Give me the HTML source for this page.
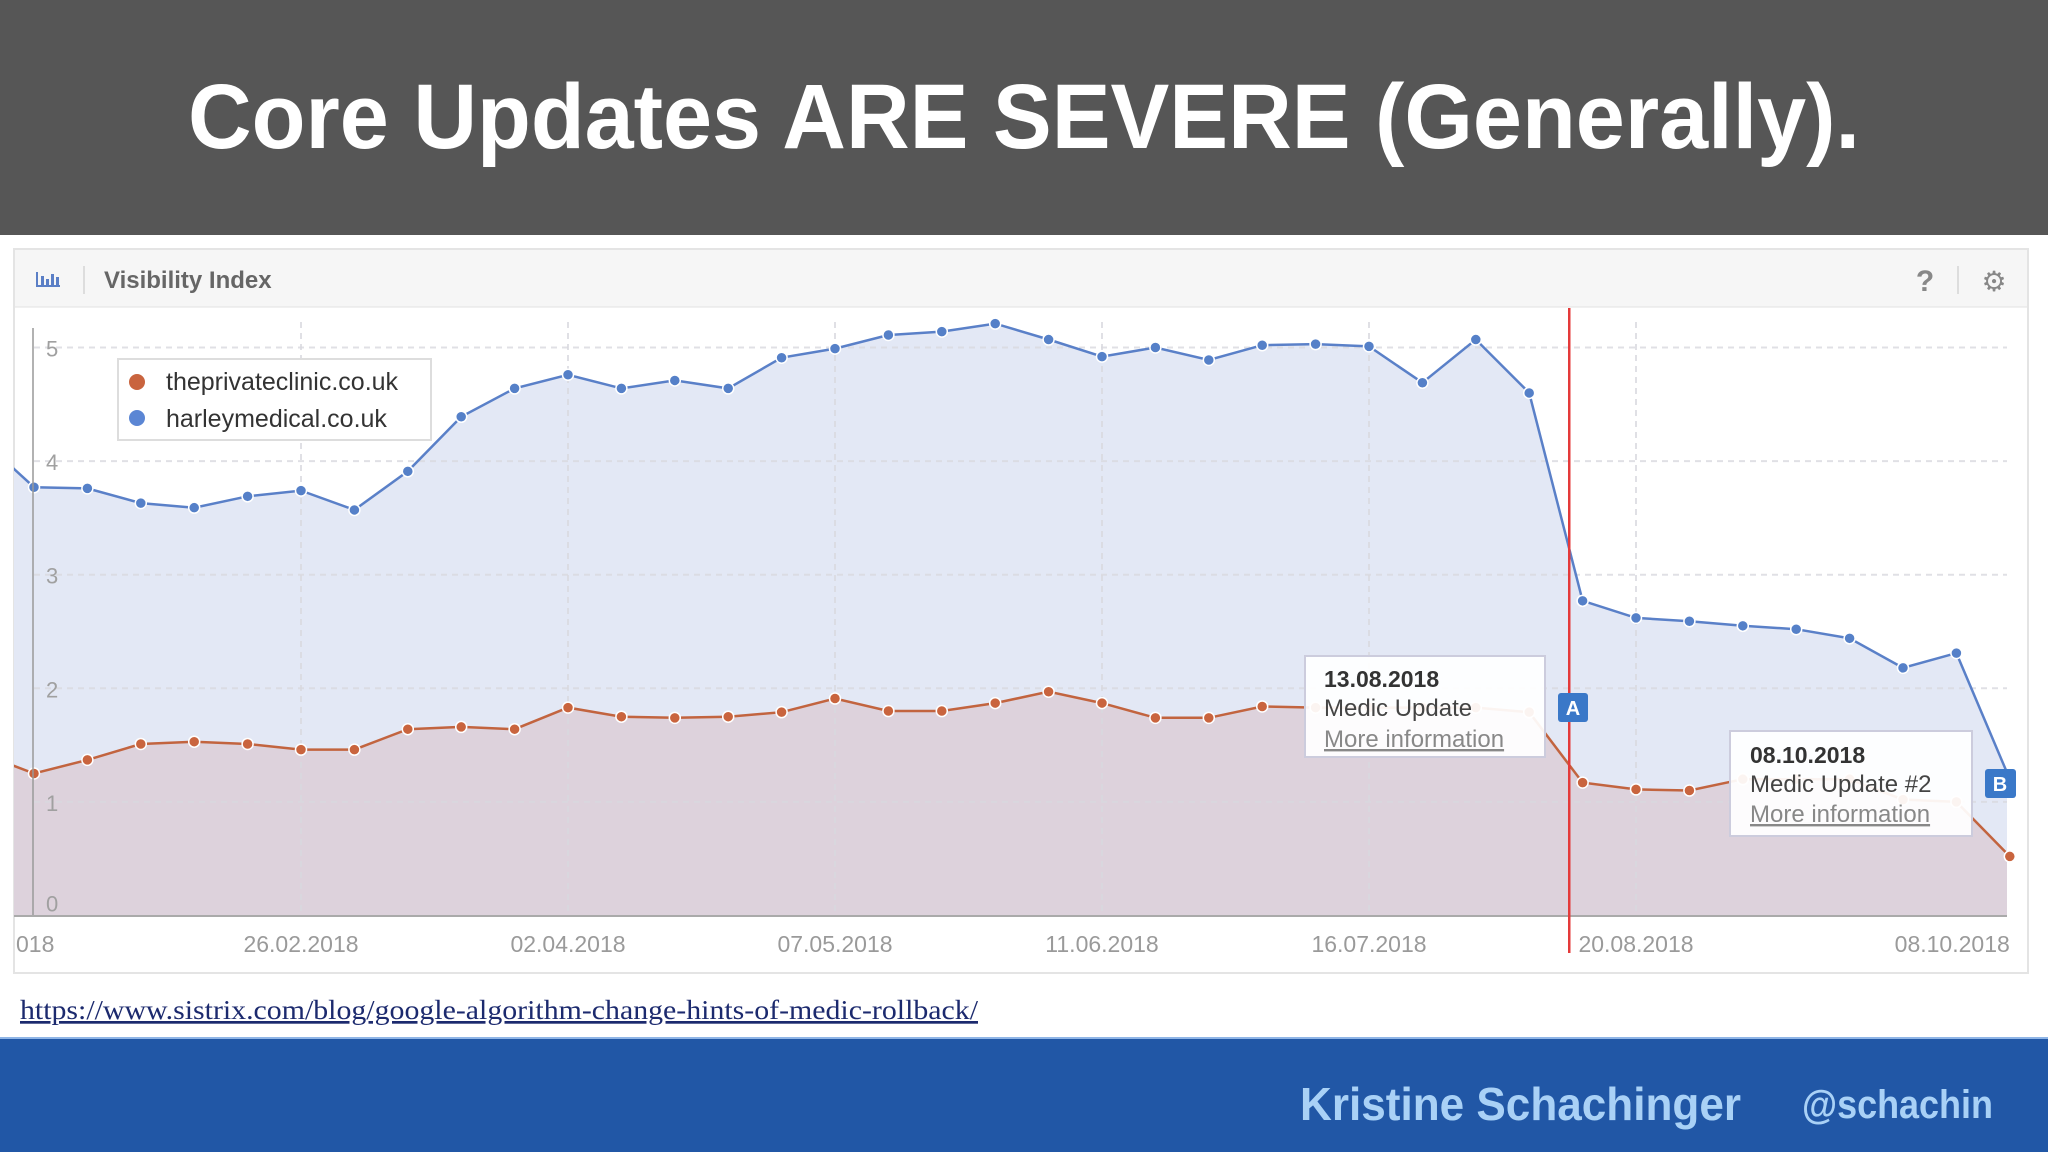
<!DOCTYPE html>
<html><head><meta charset="utf-8"><style>
html,body{margin:0;padding:0;width:2048px;height:1152px;overflow:hidden;background:#fff}
svg{display:block}
</style></head><body>
<svg id="s" width="2048" height="1152" viewBox="0 0 2048 1152" xmlns="http://www.w3.org/2000/svg">
<rect x="0" y="0" width="2048" height="235" fill="#565656"/>
<text x="1024" y="148" text-anchor="middle" fill="#fff" font-family="Liberation Sans, sans-serif" font-weight="bold" font-size="92" textLength="1672" lengthAdjust="spacingAndGlyphs">Core Updates ARE SEVERE (Generally).</text>
<rect x="14" y="249" width="2014" height="724" fill="#fff" stroke="#e4e4e4" stroke-width="2"/>
<rect x="15" y="250" width="2012" height="57" fill="#f6f6f6"/>
<line x1="15" y1="307" x2="2027" y2="307" stroke="#e2e2e2"/>
<g fill="#5b7fc6"><rect x="36" y="272" width="2" height="14"/><rect x="36" y="285" width="24" height="2"/><rect x="41" y="276" width="3" height="9"/><rect x="46" y="279" width="3" height="6"/><rect x="51" y="274" width="3" height="11"/><rect x="56" y="277" width="3" height="8"/></g>
<line x1="84" y1="266" x2="84" y2="294" stroke="#ddd" stroke-width="2"/>
<text x="104" y="288" font-family="Liberation Sans, sans-serif" font-weight="bold" font-size="24" fill="#666">Visibility Index</text>
<text x="1925" y="291" text-anchor="middle" font-family="Liberation Sans, sans-serif" font-weight="bold" font-size="30" fill="#888">?</text>
<line x1="1958" y1="266" x2="1958" y2="294" stroke="#ddd" stroke-width="2"/>
<text x="1994" y="291" text-anchor="middle" font-family="DejaVu Sans, sans-serif" font-size="28" fill="#888">⚙</text>
<g id="plot"></g>
<rect x="118" y="359" width="313" height="81" fill="#fff" stroke="#ddd" stroke-width="2"/>
<g><circle cx="137" cy="382" r="8" fill="#c9643e"/><text x="166" y="390" font-family="Liberation Sans, sans-serif" font-size="25" fill="#333">theprivateclinic.co.uk</text></g>
<g><circle cx="137" cy="418" r="8" fill="#5b86d4"/><text x="166" y="427" font-family="Liberation Sans, sans-serif" font-size="25" fill="#333">harleymedical.co.uk</text></g>
<g><rect x="1305" y="656" width="240" height="101" fill="#fff" fill-opacity="0.93" stroke="#ccd" stroke-width="2"/>
<text x="1324" y="687" font-family="Liberation Sans, sans-serif" font-weight="bold" font-size="23" fill="#333">13.08.2018</text>
<text x="1324" y="716" font-family="Liberation Sans, sans-serif" font-size="24" fill="#444">Medic Update</text>
<text x="1324" y="747" font-family="Liberation Sans, sans-serif" font-size="24" fill="#888" text-decoration="underline">More information</text></g>
<g><rect x="1558" y="693" width="30" height="29" rx="3" fill="#3a78c8"/><text x="1573" y="715" text-anchor="middle" font-family="Liberation Sans, sans-serif" font-weight="bold" font-size="20" fill="#fff">A</text></g>
<g><rect x="1730" y="731" width="242" height="105" fill="#fff" fill-opacity="0.93" stroke="#ccd" stroke-width="2"/>
<text x="1750" y="763" font-family="Liberation Sans, sans-serif" font-weight="bold" font-size="23" fill="#333">08.10.2018</text>
<text x="1750" y="792" font-family="Liberation Sans, sans-serif" font-size="24" fill="#444">Medic Update #2</text>
<text x="1750" y="822" font-family="Liberation Sans, sans-serif" font-size="24" fill="#888" text-decoration="underline">More information</text></g>
<g><rect x="1985" y="769" width="31" height="29" rx="3" fill="#3a78c8"/><text x="2000" y="791" text-anchor="middle" font-family="Liberation Sans, sans-serif" font-weight="bold" font-size="20" fill="#fff">B</text></g>
<text x="20" y="1019" font-family="Liberation Serif, serif" font-size="27" fill="#1c2a6e" text-decoration="underline" textLength="958" lengthAdjust="spacingAndGlyphs">https://www.sistrix.com/blog/google-algorithm-change-hints-of-medic-rollback/</text>
<rect x="0" y="1038" width="2048" height="114" fill="#2157a6"/>
<line x1="0" y1="1038" x2="2048" y2="1038" stroke="#8fb5e6" stroke-width="2"/>
<text x="1300" y="1120" font-family="Liberation Sans, sans-serif" font-weight="bold" font-size="46" fill="#a9d1f6" textLength="441" lengthAdjust="spacingAndGlyphs">Kristine Schachinger</text>
<text x="1802" y="1118" font-family="Liberation Sans, sans-serif" font-weight="bold" font-size="40" fill="#a9d1f6" textLength="191" lengthAdjust="spacingAndGlyphs">@schachin</text>
</svg>
<script>
const weekLabels=["26.02.2018","02.04.2018","07.05.2018","11.06.2018","16.07.2018","20.08.2018","08.10.2018"];
const weekLabelIdx=[5,10,15,20,25,30,37];
const yTicks=[0,1,2,3,4,5];
const harley=[4.2,3.77,3.76,3.63,3.59,3.69,3.74,3.57,3.91,4.39,4.64,4.76,4.64,4.71,4.64,4.91,4.99,5.11,5.14,5.21,5.07,4.92,5.0,4.89,5.02,5.03,5.01,4.69,5.07,4.6,2.77,2.62,2.59,2.55,2.52,2.44,2.18,2.31,1.2];
const clinic=[1.43,1.25,1.37,1.51,1.53,1.51,1.46,1.46,1.64,1.66,1.64,1.83,1.75,1.74,1.75,1.79,1.91,1.8,1.8,1.87,1.97,1.87,1.74,1.74,1.84,1.83,1.83,1.83,1.83,1.79,1.17,1.11,1.1,1.2,1.2,1.2,1.02,1.0,0.52];
const updateWeek=28.75;
const NS="http://www.w3.org/2000/svg";
const X0=14,X1=2007,Y0=916,YT=308;
function xs(i){return 34+53.4*i;}
function ys(v){return 915.5-113.6*v;}
const g=document.getElementById('plot');
function mk(t,a){const e=document.createElementNS(NS,t);for(const k in a)e.setAttribute(k,a[k]);g.appendChild(e);return e;}
const clip=mk('clipPath',{id:'cp'});
const cr=document.createElementNS(NS,'rect');cr.setAttribute('x',X0);cr.setAttribute('y',YT);cr.setAttribute('width',X1-X0);cr.setAttribute('height',Y0-YT);clip.appendChild(cr);
function series(vals,fill,stroke,name){
  const pts=vals.map((v,j)=>[xs(j-1),ys(v)]);
  const d='M'+pts.map(p=>p[0].toFixed(1)+','+p[1].toFixed(1)).join('L');
  const a=mk('path',{d:d+'L'+pts[pts.length-1][0]+','+Y0+'L'+pts[0][0]+','+Y0+'Z',fill:fill,'clip-path':'url(#cp)'});
  
  
  return {pts:pts,d:d};
}
const hs=series(harley,'#e3e8f5','#5a80c8','harleymedical');
const cs=series(clinic,'#ddd2dc','#c2643f','theprivateclinic');
// grid drawn over areas
yTicks.forEach(v=>{
  if(v>0){const l=mk('line',{x1:X0+20,x2:X1,y1:ys(v),y2:ys(v),stroke:'#d8d8de','stroke-width':2,'stroke-dasharray':'6 5','stroke-opacity':0.8});
  
  }
  const t=mk('text',{x:46,y:v==0?ys(v)-4:ys(v)+9,'font-family':'Liberation Sans, sans-serif','font-size':22,fill:'#a0a0a0'});
  t.textContent=v;
  
  
});
weekLabelIdx.forEach((w,k)=>{
  const last=k==weekLabelIdx.length-1;
  if(!last){const l=mk('line',{x1:xs(w),x2:xs(w),y1:YT+14,y2:Y0,stroke:'#d8d8de','stroke-width':2,'stroke-dasharray':'6 5','stroke-opacity':0.8});
  
  }
  const t=mk('text',{x:xs(w),y:952,'text-anchor':last?'end':'middle','font-family':'Liberation Sans, sans-serif','font-size':23,fill:'#9a9a9a'});
  t.textContent=weekLabels[k];
  
  
});
const t0=mk('text',{x:16,y:952,'font-family':'Liberation Sans, sans-serif','font-size':23,fill:'#9a9a9a'});t0.textContent='018';


function line(s,stroke,name){
  const l=mk('path',{d:s.d,fill:'none',stroke:stroke,'stroke-width':2.5,'clip-path':'url(#cp)'});
  
  
}
line(hs,'#5a80c8','harleymedical');
line(cs,'#c2643f','theprivateclinic');
function dots(pts,fill,name){pts.forEach((p,j)=>{if(j==0)return;
  const c=mk('circle',{cx:p[0],cy:p[1],r:5.5,fill:fill,stroke:'#fff','stroke-width':1.5});
  
  
});}
dots(hs.pts,'#5580c8','harleymedical');
dots(cs.pts,'#c9643e','theprivateclinic');
const ax=mk('line',{x1:33,x2:33,y1:YT+20,y2:Y0,stroke:'#999','stroke-width':1.5});


const bx=mk('line',{x1:X0,x2:X1,y1:Y0,y2:Y0,stroke:'#aaa','stroke-width':2});


const rl=mk('line',{x1:xs(updateWeek),x2:xs(updateWeek),y1:YT,y2:953,stroke:'#e43a3a','stroke-width':2.5});


</script>
</body></html>
